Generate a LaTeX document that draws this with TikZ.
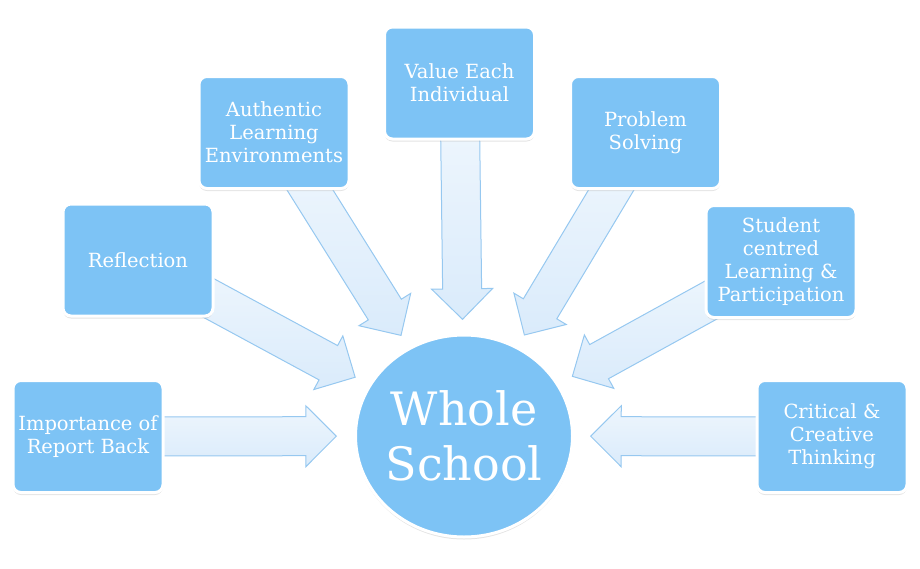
\documentclass[tikz,border=0pt]{standalone}
\usepackage{fontspec}
\setmainfont{DejaVu Serif}
\usetikzlibrary{shapes.geometric,shapes.arrows,shadows,calc,backgrounds}
\definecolor{boxblue}{RGB}{125,195,245}
\definecolor{arrowfill}{RGB}{218,235,251}
\definecolor{arrowlight}{RGB}{238,246,253}
\definecolor{arrowline}{RGB}{150,200,240}

\begin{document}
\begin{tikzpicture}[x=1pt, y=-1pt,
    main/.style = {draw=white, line width=3pt, fill=boxblue, rounded corners=8pt,
        minimum width=150pt, minimum height=112pt, align=center, text=white,
        font=\fontsize{19.5}{23}\selectfont,
        drop shadow={shadow xshift=0pt, shadow yshift=-2.5pt, fill=black!30, opacity=0.35}},
    ws/.style = {ellipse, draw=white, line width=3pt, fill=boxblue,
        minimum width=217pt, minimum height=202pt, inner sep=0pt,
        drop shadow={shadow xshift=0pt, shadow yshift=-2.5pt, fill=black!30, opacity=0.35}},
    ar/.style = {sloped, allow upside down, pos=1, anchor=tip, single arrow,
        draw=arrowline, line width=1pt, top color=arrowlight, bottom color=arrowfill,
        minimum height=200pt, inner xsep=0pt, inner ysep=19pt,
        single arrow head extend=11pt}]
    \useasboundingbox (0,0) rectangle (920,568);
    \node[ws] (c) at (464,436) {};
    \node[text=white, align=center, font=\fontsize{46}{55}\selectfont] (t) at (c) {Whole\\School};
    \node[main] (1) at (88,436.5) {Importance of\\Report Back};
    \node[main] (2) at (138,260) {Reflection};
    \node[main] (3) at (274,132.5) {Authentic\\Learning\\Environments};
    \node[main] (4) at (459.5,83) {Value Each\\Individual};
    \node[main] (5) at (645.5,132.5) {Problem\\Solving};
    \node[main] (6) at (781,261.5) {Student\\centred\\Learning \&\\Participation};
    \node[main] (7) at (832,436.5) {Critical \&\\Creative\\Thinking};
    \begin{pgfonlayer}{background}
        \path (1) -- node[ar] {} ($(c)!127pt!(1)$);
        \path (2) -- node[ar] {} ($(c)!123pt!(2)$);
        \path (3) -- node[ar] {} ($(c)!118pt!(3)$);
        \path (4) -- node[ar] {} ($(c)!116pt!(4)$);
        \path (5) -- node[ar] {} ($(c)!117pt!(5)$);
        \path (6) -- node[ar] {} ($(c)!123pt!(6)$);
        \path (7) -- node[ar] {} ($(c)!126pt!(7)$);
    \end{pgfonlayer}
\end{tikzpicture}
\end{document}
